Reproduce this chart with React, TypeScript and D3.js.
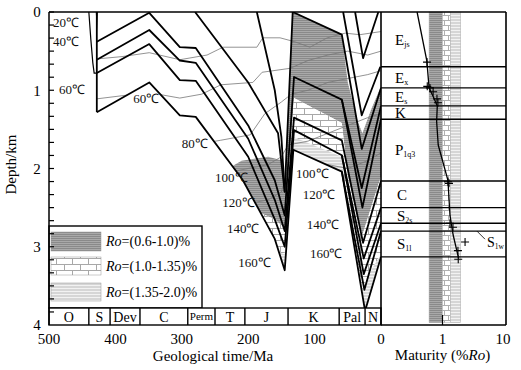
import React from "react";
import * as d3 from "d3";

type P = [number, number];

// ---- Burial curves [age Ma, depth km] ----
const curveA1: P[] = [[428,0.38],[349,0.01],[303,0.45],[279,0.46],[200,1.45],[160,2.15],[145,2.6],[131,0.83],[59,1.12],[28,2.5],[0,1.37]];
const curveA2: P[] = [[428,0.61],[349,0.23],[303,0.62],[279,0.65],[200,1.62],[160,2.4],[145,2.8],[131,1.35],[59,1.64],[27,2.95],[0,2.16]];
const curveA3: P[] = [[428,0.78],[349,0.41],[303,0.87],[279,0.88],[200,1.85],[160,2.65],[145,3.0],[131,1.51],[59,1.83],[26,3.35],[0,2.70]];
const curveA4: P[] = [[428,1.28],[349,0.90],[303,1.32],[279,1.34],[208,2.15],[160,2.9],[145,3.3],[132,1.76],[59,2.04],[24,3.82],[0,3.13]];
const curveP: P[] = [[280,0],[200,0.9],[155,1.55],[145,2.3],[133,0],[59,0.29],[29,1.75],[0,0.97]];
const curveJ: P[] = [[187,0],[160,1.0],[150,1.6],[145,2.3]];
const curveE1: P[] = [[39,0],[27,0.59],[4,0]];
const curveE2: P[] = [[57,0],[29,1.32],[1,0.70]];
const curveB1: P[] = [[59,1.12],[29,2.25],[0,1.20]];
const curveB2: P[] = [[59,1.83],[26,3.15],[0,2.50]];
const curveB3: P[] = [[59,2.04],[25,3.55],[0,2.80]];
const curveS0: P[] = [[440,0],[437,0.35],[434,0.65],[432,0.78],[428,0.78]];
const curveS1: P[] = [[428,0],[428,1.28]];
const burialCurves = [curveA1, curveA2, curveA3, curveA4, curveP, curveJ, curveE1, curveE2, curveB1, curveB2, curveB3, curveS1];

// ---- Isotherms ----
const iso40: P[] = [[428,0.6],[390,0.57],[349,0.52],[303,0.61],[262,0.55],[238,0.45],[187,0.45],[178,0.33],[152,0.33],[130,0.38],[107,0.45],[81,0.33],[54,0.27],[32,0.29],[0,0.25]];
const iso60: P[] = [[428,1.11],[390,1.07],[349,1.03],[303,1.1],[270,1.05],[241,0.93],[193,0.9],[179,0.77],[137,0.72],[110,0.62],[80,0.55],[50,0.5],[20,0.55],[0,0.5]];
const iso80: P[] = [[270,1.68],[242,1.64],[197,1.57],[175,1.3],[150,1.15],[135,1.05],[110,1.0],[80,0.9],[50,0.85],[20,0.8],[0,0.75]];
const iso100: P[] = [[230,2.05],[200,2.0],[170,1.95],[150,1.85],[140,1.7],[110,1.65],[80,1.55],[50,1.45],[20,1.35],[0,1.3]];
const iso120: P[] = [[200,2.45],[170,2.4],[150,2.3],[140,2.0],[110,2.0],[80,1.95],[50,2.0],[20,1.9],[0,1.8]];
const isotherms = [iso40, iso60, iso80, iso100, iso120];

// ---- Ro zone boundaries (iso-reflectance surfaces) ----
const ro06: P[] = [[230,2.0],[210,1.9],[170,1.85],[147,1.9],[145,1.95],[134,0],[59,0.29],[50,0.9],[35,1.4],[28,1.55],[15,1.25],[0,0.95]];
const ro10: P[] = [[230,2.45],[200,2.5],[160,2.65],[147,2.75],[145,2.75],[131,1.1],[59,1.42],[50,2.1],[35,2.65],[28,2.85],[15,2.5],[0,2.1]];
const ro135: P[] = [[230,2.95],[160,3.05],[145,3.1],[131,1.6],[59,1.85],[50,2.6],[35,3.3],[28,3.55],[15,3.3],[0,3.1]];
const ro20: P[] = [[230,4.2],[145,4.2],[131,2.6],[59,2.6],[28,4.3],[0,3.8]];

// ---- Time scale ----
const periods = [
  { name: "O", from: 500, to: 440 },
  { name: "S", from: 440, to: 408 },
  { name: "Dev", from: 408, to: 363 },
  { name: "C", from: 363, to: 291 },
  { name: "Perm", from: 291, to: 250 },
  { name: "T", from: 250, to: 205 },
  { name: "J", from: 205, to: 140 },
  { name: "K", from: 140, to: 63 },
  { name: "Pal", from: 63, to: 24 },
  { name: "N", from: 24, to: 0 },
];
const timeTicks = [500, 400, 300, 200, 100, 0];
const depthTicks = [0, 1, 2, 3, 4];

// ---- Temperature labels [text, age, depth] ----
const tempLabels: [string, number, number][] = [
  ["20℃", 494, 0.13], ["40℃", 494, 0.38], ["60℃", 485, 0.99], ["60℃", 373, 1.1],
  ["80℃", 300, 1.68], ["100℃", 250, 2.12], ["120℃", 239, 2.44], ["140℃", 232, 2.76],
  ["160℃", 215, 3.2], ["100℃", 128, 2.06], ["120℃", 118, 2.33], ["140℃", 112, 2.72],
  ["160℃", 107, 3.08],
];

// ---- Right panel: formations (present-day depths) ----
const formationTops = [0, 0.70, 0.97, 1.20, 1.37, 2.16, 2.50, 2.70, 2.80, 3.13];
const formationNames: [string, string][] = [["E","js"],["E","x"],["E","s"],["K",""],["P","1q3"],["C",""],["S","2s"],["S","1w"],["S","1l"]];
const roBands = [0.6, 1.0, 1.35, 2.0];
const roCurve: P[] = [[0.38,0],[0.55,0.62],[0.6,0.97],[0.72,1.1],[0.82,1.2],[0.8,1.4],[0.85,1.7],[1.23,2.15],[1.33,2.6],[1.5,2.85],[1.85,3.15]];
const roSamples: P[] = [[0.555,0.64],[0.56,0.95],[0.62,0.97],[0.70,1.02],[0.81,1.11],[0.84,1.16],[1.23,2.17],[1.28,2.19],[1.33,2.70],[1.49,2.75],[2.36,2.94],[1.80,3.05],[1.82,3.16]];
const roTicks: [number, string][] = [[1, "1"], [10, "10"]];

const FONT = "Liberation Serif";

export default function App() {
  const x = d3.scaleLinear().domain([500, 0]).range([49, 381]);
  const y = d3.scaleLinear().domain([0, 4]).range([12, 325]);
  const xr = d3.scaleLog().domain([0.1, 10]).range([382, 503]);
  const line = d3.line<P>().x(d => x(d[0])).y(d => y(d[1]));
  const rline = d3.line<P>().x(d => xr(d[0])).y(d => y(d[1]));
  const band = (top: P[], bot: P[]) => line(top.concat(bot.slice().reverse())) + "Z";

  const left = x(500), right = x(0), top = y(0), bottom = y(4);
  const panelRight = 506;
  const bandTop = bottom - 17;

  const a4rev = curveA4.slice().reverse();
  const envelope: P[] = [[440,0],[187,0],[160,1.0],[150,1.6],[145,2.3],[133,0],[0,0], ...a4rev, [440,1.28]];
  const isoClip: P[] = [[440,0],[0,0], ...a4rev, [440,1.28]];

  const minorTicks = d3.range(0, 24).map(i => i / 6);

  const legendX = left, legendY = 226, legendW = 153;
  const legendRows = [
    { fill: "url(#pDark)", label: "(0.6-1.0)%", y: 232, h: 19 },
    { fill: "url(#pBrick)", label: "(1.0-1.35)%", y: 257, h: 18 },
    { fill: "url(#pLight)", label: "(1.35-2.0)%", y: 283, h: 18 },
  ];
  const colFills = ["url(#pDark)", "url(#pBrickS)", "url(#pLight)"];

  return (
    <svg width={521} height={370} style={{ position: "absolute", left: 0, top: 0, background: "#fff", fontFamily: FONT }}>
      <defs>
        <pattern id="pDark" width="4" height="2" patternUnits="userSpaceOnUse">
          <rect width="4" height="2" fill="#a9a9a9" />
          <rect width="4" height="1" fill="#8a8a8a" />
        </pattern>
        <pattern id="pLight" width="4" height="3" patternUnits="userSpaceOnUse">
          <rect width="4" height="3" fill="#d6d6d6" />
          <rect width="4" height="1" fill="#f2f2f2" />
        </pattern>
        <pattern id="pBrick" width="16" height="12" patternUnits="userSpaceOnUse">
          <rect width="16" height="12" fill="#fff" />
          <path d="M0,0.5H16M0,6.5H16M0.5,0V6.5M8.5,6.5V12" stroke="#a8a8a8" strokeWidth="1" fill="none" />
        </pattern>
        <pattern id="pBrickS" width="8" height="10" patternUnits="userSpaceOnUse">
          <rect width="8" height="10" fill="#fff" />
          <path d="M0,0.5H8M0,5.5H8M4.5,0V5.5M0.5,5.5V10" stroke="#b0b0b0" strokeWidth="1" fill="none" />
        </pattern>
        <clipPath id="clipSed"><path d={line(envelope) + "Z"} /></clipPath>
        <clipPath id="clipIso"><path d={line(isoClip) + "Z"} /></clipPath>
        <clipPath id="clipPlot"><rect x={left} y={top} width={right - left} height={bandTop - top} /></clipPath>
      </defs>

      {/* Ro zone shading */}
      <g clipPath="url(#clipPlot)">
        <g clipPath="url(#clipSed)">
          <path d={band(ro06, ro10)} fill="url(#pDark)" />
          <path d={band(ro10, ro135)} fill="url(#pBrick)" />
          <path d={band(ro135, ro20)} fill="url(#pLight)" />
        </g>
        {/* isotherms */}
        <g clipPath="url(#clipIso)">
          {isotherms.map((d, i) => (
            <path key={i} d={line(d)!} fill="none" stroke="#777" strokeWidth={0.8} />
          ))}
        </g>
        {/* burial curves */}
        <path d={line(curveS0)!} fill="none" stroke="#000" strokeWidth={1.2} />
        {burialCurves.map((d, i) => (
          <path key={i} d={line(d)!} fill="none" stroke="#000" strokeWidth={1.8} strokeLinejoin="round" />
        ))}
        <path d={line([[429.5,0],[426.5,0],[428,0.3]])! + "Z"} fill="#000" />
      </g>

      {/* temperature labels */}
      {tempLabels.map(([t, a, dpt], i) => (
        <text key={i} x={x(a)} y={y(dpt)} dy="0.35em" fontSize={13} fill="#111">{t}</text>
      ))}

      {/* legend */}
      <rect x={legendX} y={legendY} width={legendW} height={bandTop - legendY} fill="#fff" stroke="#000" strokeWidth={1.4} />
      {legendRows.map((r, i) => (
        <g key={i}>
          <rect x={legendX + 2} y={r.y} width={50} height={r.h} fill={r.fill} stroke="#999" strokeWidth={0.5} />
          <text x={legendX + 57} y={r.y + r.h / 2} dy="0.35em" fontSize={14}>
            <tspan fontStyle="italic">Ro</tspan>={r.label}
          </text>
        </g>
      ))}

      {/* time scale band */}
      <rect x={left} y={bandTop} width={right - left} height={bottom - bandTop} fill="#fff" stroke="#000" strokeWidth={1.4} />
      {periods.map((p, i) => (
        <g key={i}>
          {i > 0 && <line x1={x(p.from)} x2={x(p.from)} y1={bandTop} y2={bottom} stroke="#000" strokeWidth={1.4} />}
          <text x={(x(p.from) + x(p.to)) / 2} y={(bandTop + bottom) / 2} dy="0.36em" textAnchor="middle" fontSize={p.name === "Perm" ? 11 : 14}>{p.name}</text>
        </g>
      ))}

      {/* left axis */}
      <line x1={left} x2={left} y1={top} y2={bottom} stroke="#000" strokeWidth={1.5} />
      {minorTicks.map((t, i) => (
        <line key={i} x1={left} x2={left + 5} y1={y(t)} y2={y(t)} stroke="#000" strokeWidth={1.2} />
      ))}
      {depthTicks.map(t => (
        <text key={t} x={37} y={y(t)} dy="0.35em" textAnchor="middle" fontSize={15}>{t}</text>
      ))}
      <text transform={`translate(16,${y(1.95)}) rotate(-90)`} textAnchor="middle" fontSize={15}>Depth/km</text>
      {timeTicks.map(t => (
        <text key={t} x={x(t)} y={344} textAnchor="middle" fontSize={15}>{t}</text>
      ))}
      <text x={x(253)} y={361} textAnchor="middle" fontSize={15}>Geological time/Ma</text>

      {/* right panel */}
      {roBands.slice(0, 3).map((b, i) => (
        <rect key={i} x={xr(b)} y={top} width={xr(roBands[i + 1]) - xr(b)} height={y(3.97) - top} fill={colFills[i]} stroke="#aaa" strokeWidth={0.5} />
      ))}
      {formationTops.slice(1).map((d, i) => (
        <line key={i} x1={right} x2={panelRight} y1={y(d)} y2={y(d)} stroke="#000" strokeWidth={1.4} />
      ))}
      {formationNames.map(([m, s], i) => {
        const mid = (formationTops[i] + formationTops[i + 1]) / 2;
        if (m === "S" && s === "1w") {
          return (
            <g key={i}>
              <line x1={477} x2={485} y1={y(mid) + 4} y2={y(mid) + 12} stroke="#000" strokeWidth={0.8} />
              <text x={487} y={y(mid) + 20} fontSize={14}>S<tspan fontSize={7.5} dy={2}>1w</tspan></text>
            </g>
          );
        }
        return (
          <text key={i} x={m === "C" || m === "S" ? 397 : 395} y={y(mid)} dy="0.35em" fontSize={15}>
            {m}{s && <tspan fontSize={8} dy={2}>{s}</tspan>}
          </text>
        );
      })}
      <path d={rline(roCurve)!} fill="none" stroke="#000" strokeWidth={1.3} />
      {roSamples.map(([r, dpt], i) => (
        <path key={i} d={`M${xr(r) - 4},${y(dpt)}H${xr(r) + 4}M${xr(r)},${y(dpt) - 4}V${y(dpt) + 4}`} stroke="#000" strokeWidth={1.1} />
      ))}
      <line x1={xr(1)} x2={xr(1)} y1={bottom - 10} y2={bottom} stroke="#000" strokeWidth={1.2} />
      {roTicks.map(([v, s]) => (
        <text key={s} x={xr(v)} y={344} textAnchor="middle" fontSize={15}>{s}</text>
      ))}
      <text x={xr(1)} y={360} textAnchor="middle" fontSize={15}>
        Maturity (%<tspan fontStyle="italic">Ro</tspan>)
      </text>

      {/* frames */}
      <line x1={left} x2={panelRight} y1={top} y2={top} stroke="#000" strokeWidth={1.6} />
      <line x1={right} x2={right} y1={top} y2={bottom} stroke="#000" strokeWidth={1.6} />
      <line x1={right} x2={panelRight} y1={bottom} y2={bottom} stroke="#000" strokeWidth={1.6} />
      <line x1={panelRight} x2={panelRight} y1={top} y2={bottom} stroke="#000" strokeWidth={1.6} />
    </svg>
  );
}
